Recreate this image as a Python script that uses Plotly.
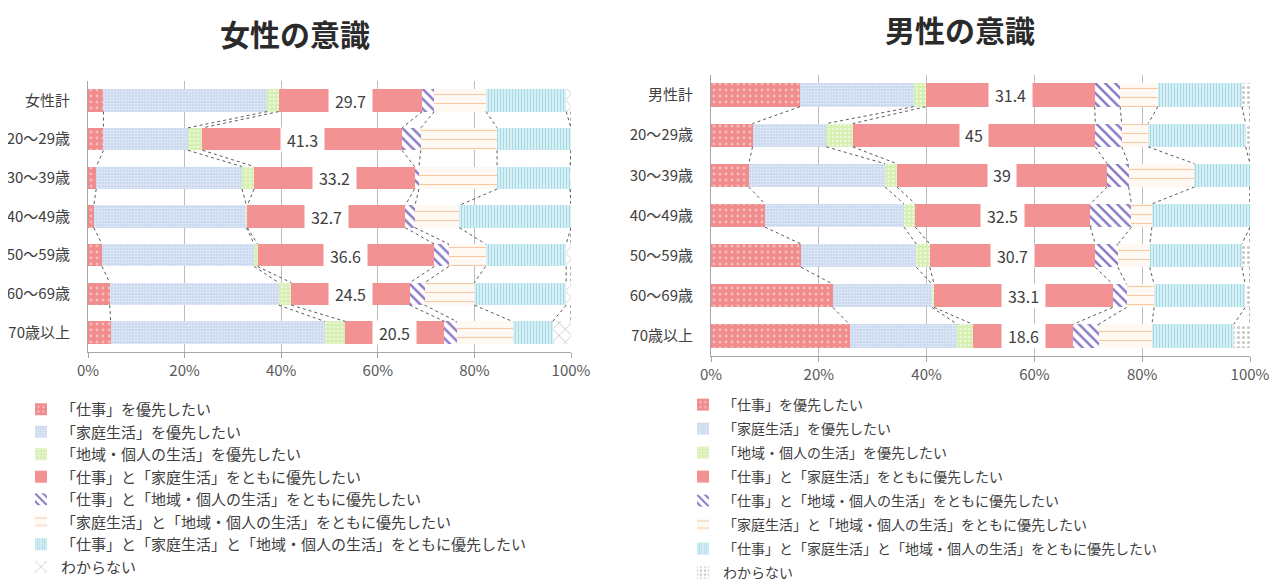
import plotly.graph_objects as go

# ---------------- data ----------------
rows_f = ["女性計", "20～29歳", "30～39歳", "40～49歳", "50～59歳", "60～69歳", "70歳以上"]
rows_m = ["男性計", "20～29歳", "30～39歳", "40～49歳", "50～59歳", "60～69歳", "70歳以上"]

series_names = [
    "「仕事」を優先したい",
    "「家庭生活」を優先したい",
    "「地域・個人の生活」を優先したい",
    "「仕事」と「家庭生活」をともに優先したい",
    "「仕事」と「地域・個人の生活」をともに優先したい",
    "「家庭生活」と「地域・個人の生活」をともに優先したい",
    "「仕事」と「家庭生活」と「地域・個人の生活」をともに優先したい",
    "わからない",
]

# women
work_f = [3.2, 3.2, 1.7, 1.2, 2.9, 4.5, 4.7]
family_f = [33.9, 17.5, 30.2, 31.6, 31.5, 35.0, 44.3]
community_f = [2.4, 3.0, 2.5, 0.2, 0.7, 2.6, 4.3]
work_family_f = [29.7, 41.3, 33.2, 32.7, 36.6, 24.5, 20.5]
work_comm_f = [2.5, 3.9, 0.9, 2.0, 3.0, 3.1, 2.5]
fam_comm_f = [10.7, 15.8, 16.2, 9.2, 7.6, 10.3, 11.6]
all3_f = [16.6, 15.3, 15.1, 23.1, 16.7, 19.0, 8.3]
unknown_f = [1.0, 0.0, 0.2, 0.0, 1.0, 1.0, 3.8]

# men
work_m = [16.5, 7.7, 7.0, 10.0, 16.7, 22.6, 25.7]
family_m = [21.1, 13.7, 25.3, 25.8, 21.4, 18.4, 20.0]
community_m = [2.2, 4.9, 2.2, 2.1, 2.5, 0.4, 2.9]
work_family_m = [31.4, 45.0, 39.0, 32.5, 30.7, 33.1, 18.6]
work_comm_m = [4.7, 4.9, 4.0, 7.6, 4.2, 2.6, 4.7]
fam_comm_m = [7.0, 4.9, 12.2, 3.8, 5.9, 5.1, 9.9]
all3_m = [15.6, 18.1, 10.3, 18.2, 17.1, 16.9, 15.2]
unknown_m = [1.5, 0.8, 0.0, 0.0, 1.5, 0.9, 3.0]

x_ticks = [0, 20, 40, 60, 80, 100]
x_ticktext = ["0%", "20%", "40%", "60%", "80%", "100%"]

data_f = [work_f, family_f, community_f, work_family_f, work_comm_f, fam_comm_f, all3_f, unknown_f]
data_m = [work_m, family_m, community_m, work_family_m, work_comm_m, fam_comm_m, all3_m, unknown_m]

# ---------------- styles ----------------
FONT = "Noto Sans CJK JP"
BAR_W = 0.58
OX, OY = 8, 8          # page body margin
W, H = 1285 - OX, 586 - OY


def px(x):  # screen x -> paper
    return (x - OX) / W


def py(y):  # screen y -> paper
    return 1 - (y - OY) / H


patterns_f = [
    dict(shape=".", bgcolor="#F08C8C", fgcolor="#F7BDBD", size=6, solidity=0.18),
    dict(shape=".", bgcolor="#C9D8EF", fgcolor="#E6EDF8", size=3, solidity=0.4),
    dict(shape=".", bgcolor="#D6F0B2", fgcolor="#EAF8D8", size=4, solidity=0.3),
    None,
    dict(shape="\\", bgcolor="#FFFFFF", fgcolor="#8A78C4", size=7, solidity=0.35),
    dict(shape="-", bgcolor="#FFF9F4", fgcolor="#F6C8A4", size=9, solidity=0.12),
    dict(shape="|", bgcolor="#DDF2F6", fgcolor="#A4DCE6", size=3, solidity=0.4),
    dict(shape="x", bgcolor="#FFFFFF", fgcolor="#A8A8A8", size=9, solidity=0.12),
]
patterns_m = list(patterns_f)
patterns_m[7] = dict(shape=".", bgcolor="#FFFFFF", fgcolor="#C8C8C8", size=5, solidity=0.3)
solid_color = "#F29292"

fig = go.Figure()


def add_chart(data, rows, patterns, xa, ya, legend, gid):
    ypos = list(range(len(rows)))
    for k, (name, vals) in enumerate(zip(series_names, data)):
        pat = patterns[k]
        if pat is None:
            marker = dict(color=solid_color, line=dict(width=0))
        else:
            marker = dict(color=pat["bgcolor"], line=dict(width=0),
                          pattern=dict(shape=pat["shape"], bgcolor=pat["bgcolor"],
                                       fgcolor=pat["fgcolor"], size=pat["size"],
                                       solidity=pat["solidity"], fillmode="replace"))
        fig.add_trace(go.Bar(
            x=vals, y=ypos, orientation="h", name=name, width=BAR_W,
            marker=marker, xaxis=xa, yaxis=ya, legend=legend,
            legendgroup=f"{gid}{k}", hoverinfo="skip",
        ))
    # series lines
    n = len(rows)
    cum = [[0.0] * n for _ in range(len(data))]
    for i in range(n):
        s = 0.0
        for k in range(len(data)):
            s += data[k][i]
            cum[k][i] = s
    lx, ly = [], []
    for k in range(len(data)):
        for i in range(n - 1):
            lx += [cum[k][i], cum[k][i + 1], None]
            ly += [i + BAR_W / 2, i + 1 - BAR_W / 2, None]
    fig.add_trace(go.Scatter(
        x=lx, y=ly, mode="lines", line=dict(color="#5A5A5A", width=1, dash="dot"),
        xaxis=xa, yaxis=ya, showlegend=False, hoverinfo="skip",
    ))
    return cum


cum_f = add_chart(data_f, rows_f, patterns_f, "x", "y", "legend", "f")
cum_m = add_chart(data_m, rows_m, patterns_m, "x2", "y2", "legend2", "m")

annotations = []


def add_labels(data, cum, xa, ya, bar_px):
    for i, v in enumerate(data[3]):
        txt = f"{v:g}"
        xc = cum[2][i] + v / 2
        annotations.append(dict(
            x=xc, y=i, xref=xa, yref=ya, text=txt, showarrow=False,
            font=dict(family=FONT, size=16, color="#404040"),
            bgcolor="white", borderpad=0, height=bar_px, width=len(txt) * 7.5 + 13,
        ))


add_labels(data_f, cum_f, "x", "y", 23)
add_labels(data_m, cum_m, "x2", "y2", 24)

annotations.append(dict(x=px(295), y=py(33.5), xref="paper", yref="paper",
                        xanchor="center", yanchor="middle",
                        text="<b>女性の意識</b>", showarrow=False,
                        font=dict(family=FONT, size=30, color="#2B2B2B")))
annotations.append(dict(x=px(960), y=py(29), xref="paper", yref="paper",
                        xanchor="center", yanchor="middle",
                        text="<b>男性の意識</b>", showarrow=False,
                        font=dict(family=FONT, size=30, color="#2B2B2B")))

xcommon = dict(range=[0, 100], tickvals=x_ticks, ticktext=x_ticktext,
               showgrid=True, gridcolor="#BDBDBD", gridwidth=1,
               showline=True, linecolor="#A6A6A6", ticks="outside", ticklen=5,
               tickcolor="#A6A6A6", zeroline=False, automargin=False,
               tickfont=dict(family=FONT, size=15, color="#595959"), fixedrange=True)
ycommon = dict(tickvals=list(range(7)), range=[6.5, -0.5], showgrid=False,
               showline=True, linecolor="#A6A6A6", zeroline=False, ticks="",
               ticklabelstandoff=14, automargin=False,
               tickfont=dict(family=FONT, size=15, color="#404040"), fixedrange=True)

fig.update_layout(
    width=W, height=H,
    margin=dict(l=0, r=0, t=0, b=0, autoexpand=False),
    paper_bgcolor="white", plot_bgcolor="white",
    barmode="stack",
    showlegend=True,
    xaxis=dict(domain=[px(88), px(571)], anchor="y", **xcommon),
    yaxis=dict(domain=[py(352), py(81)], anchor="x", ticktext=rows_f, **ycommon),
    xaxis2=dict(domain=[px(711), px(1250)], anchor="y2", **xcommon),
    yaxis2=dict(domain=[py(356), py(75)], anchor="x2", ticktext=rows_m, **ycommon),
    legend=dict(x=px(21), y=py(393), xanchor="left", yanchor="top",
                font=dict(family=FONT, size=15, color="#404040"),
                traceorder="grouped", tracegroupgap=0, itemwidth=30,
                bgcolor="rgba(0,0,0,0)", itemclick=False, itemdoubleclick=False),
    legend2=dict(x=px(683), y=py(389), xanchor="left", yanchor="top",
                 font=dict(family=FONT, size=14, color="#404040"),
                 traceorder="grouped", tracegroupgap=2.8, itemwidth=30,
                 bgcolor="rgba(0,0,0,0)", itemclick=False, itemdoubleclick=False),
    annotations=annotations,
    font=dict(family=FONT),
)

fig.write_html("out.html")
